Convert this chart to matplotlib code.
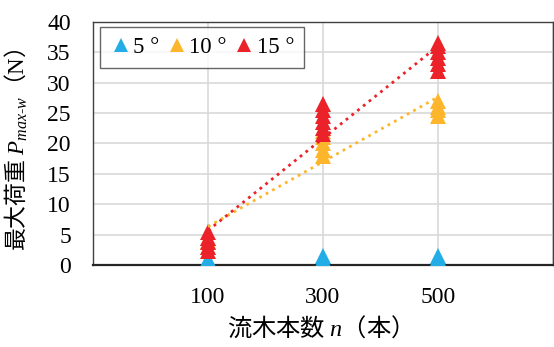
import numpy as np
import matplotlib
matplotlib.use('Agg')
import matplotlib.pyplot as plt

plt.rcParams['font.family'] = ['Liberation Serif', 'Noto Sans CJK JP']
plt.rcParams['mathtext.fontset'] = 'custom'
plt.rcParams['mathtext.rm'] = 'Liberation Serif'
plt.rcParams['mathtext.it'] = 'Liberation Serif:italic'

# 流木本数ごとの最大荷重 (N)
n_5 = [100, 100, 100, 300, 300, 500, 500]
p_5 = [0.5, 0.8, 1.0, 1.0, 1.5, 1.2, 1.5]

n_10 = [100, 100, 100, 300, 300, 300, 300, 300, 500, 500, 500, 500]
p_10 = [3.0, 4.0, 4.5, 18.0, 19.0, 20.0, 21.0, 22.0, 24.5, 25.5, 26.0, 27.0]

n_15 = [100, 100, 100, 100, 100, 300, 300, 300, 300, 300, 300,
        500, 500, 500, 500, 500, 500]
p_15 = [2.3, 3.0, 3.8, 4.5, 5.4, 21.5, 22.5, 23.5, 24.5, 25.5, 26.5,
        32.0, 33.0, 34.0, 35.0, 36.0, 36.6]

labels = ['5 °', '10 °', '15 °']
colors = ['#22ADE6', '#FDB62C', '#EC222B']

fig = plt.figure(figsize=(5.54, 3.47), dpi=100)
ax = fig.add_axes([0.168, 0.236, 0.830, 0.701])

series = [(n_5, p_5), (n_10, p_10), (n_15, p_15)]
for (n, p), lab, c in zip(series, labels, colors):
    ax.plot(n, p, '^', color=c, ms=11, mew=0, label=lab, zorder=3)

# 線形近似 (10°, 15°)
for (n, p), c in zip(series[1:], colors[1:]):
    k, b = np.polyfit(n, p, 1)
    xs = np.array([min(n), max(n)])
    ax.plot(xs, k * xs + b, ':', color=c, lw=2, zorder=4)

ax.set_xlim(-100, 700)
ax.set_ylim(0, 40)
ax.set_xticks([-100, 100, 300, 500, 700])
ax.set_xticklabels(['', '100', '300', '500', ''])
ax.set_yticks(np.arange(0, 41, 5))
ax.tick_params(length=0, labelsize=17)
ax.tick_params(axis='x', pad=16)
ax.tick_params(axis='y', pad=16)
ax.grid(True, color='#D9D9D9', lw=1.2)
ax.set_axisbelow(True)
for s in ['left', 'top', 'right']:
    ax.spines[s].set_color('#404040')
    ax.spines[s].set_linewidth(1.0)
ax.spines['bottom'].set_color('#262626')
ax.spines['bottom'].set_linewidth(1.6)

ax.set_ylabel('最大荷重 $P_{max\\text{-}w}$（$\\mathrm{N}$）', fontsize=16.5,
              family=['Noto Sans CJK JP'])
ax.yaxis.set_label_coords(-0.137, 0.475)
ax.set_xlabel('流木本数 $n$（本）', fontsize=17.5, family=['Noto Sans CJK JP'])
ax.xaxis.set_label_coords(0.48, -0.205)

leg = ax.legend(loc='upper left', ncol=3, fontsize=16.5, frameon=True,
                fancybox=False, edgecolor='#404040', borderpad=0.45,
                borderaxespad=0, handletextpad=0.1, columnspacing=0.3,
                handlelength=0.9, markerscale=0.9,
                bbox_to_anchor=(0.015, 0.98))
leg.get_frame().set_linewidth(1.0)

fig.savefig('out.png', dpi=100)
